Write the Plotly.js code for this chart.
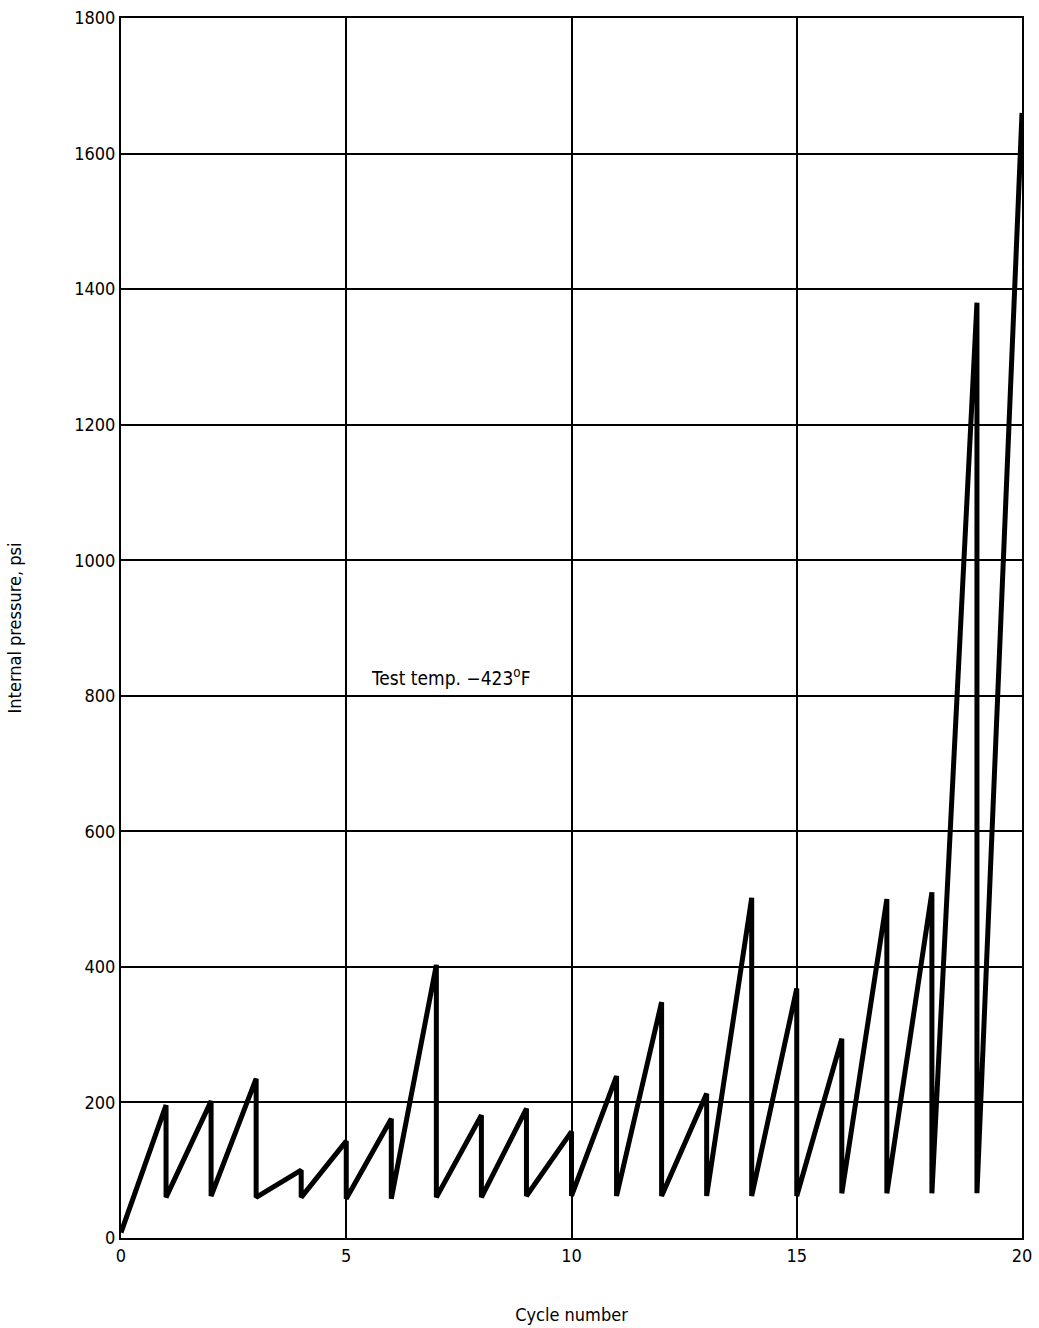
<!DOCTYPE html>
<html>
<head>
<meta charset="utf-8">
<script src="https://cdn.plot.ly/plotly-3.0.1.min.js"></script>
<style>html,body{margin:0;padding:0;background:#fff;}#chart{width:1039px;height:1328px;}</style>
</head>
<body>
<div id="chart"></div>
<script>
// Cycle number (x) and internal pressure, psi (y)
var cycleX = [0, 1, 1, 2, 2, 3, 3, 4, 4, 5, 5, 6, 6, 7, 7, 8, 8, 9, 9, 10, 10,
              11, 11, 12, 12, 13, 13, 14, 14, 15, 15, 16, 16, 17, 17, 18, 18, 19, 19, 20];
var pressureY = [8, 196, 60, 202, 62, 235, 60, 100, 60, 143, 58, 176, 58, 403, 60, 181, 60, 191, 62, 157, 62,
                 239, 62, 348, 62, 213, 62, 502, 62, 368, 62, 294, 66, 500, 66, 510, 66, 1380, 66, 1660];
var xTickVals = [0, 5, 10, 15, 20];
var xTickText = ["0", "5", "10", "15", "20"];
var yTickVals = [0, 200, 400, 600, 800, 1000, 1200, 1400, 1600, 1800];
var yTickText = ["0", "200", "400", "600", "800", "1000", "1200", "1400", "1600", "1800"];
var noteText = "Test temp. \u2212423<sup>o</sup>F";

var fontFam = "'DejaVu Sans Condensed', 'Liberation Sans Narrow', 'Roboto', sans-serif";

var trace = {
  x: cycleX, y: pressureY, type: 'scatter', mode: 'lines',
  line: {color: '#000', width: 5, shape: 'linear'},
  hoverinfo: 'skip', showlegend: false
};

var layout = {
  width: 1039, height: 1328,
  margin: {l: 121, r: 17, t: 18, b: 90},
  paper_bgcolor: '#fff', plot_bgcolor: '#fff',
  font: {family: fontFam, color: '#000', size: 18},
  xaxis: {
    range: [0, 20], tickvals: xTickVals, ticktext: xTickText,
    showgrid: true, gridcolor: '#000', gridwidth: 2,
    zeroline: false, showline: true, mirror: true, linecolor: '#000', linewidth: 2,
    ticks: '', ticklen: 0, tickfont: {family: fontFam, size: 18, color: '#000'},
    title: {text: 'Cycle number', font: {family: fontFam, size: 18, color: '#000'}, standoff: 44}
  },
  yaxis: {
    range: [0, 1800], tickvals: yTickVals, ticktext: yTickText,
    showgrid: true, gridcolor: '#000', gridwidth: 2,
    zeroline: false, showline: true, mirror: true, linecolor: '#000', linewidth: 2,
    ticks: '', ticklen: 0, tickfont: {family: fontFam, size: 18, color: '#000'},
    title: {text: 'Internal pressure, psi', font: {family: fontFam, size: 18, color: '#000'}, standoff: 48}
  },
  annotations: [{
    x: 5.5, y: 828, xref: 'x', yref: 'y', xanchor: 'left', yanchor: 'middle',
    text: noteText, showarrow: false,
    font: {family: fontFam, size: 19, color: '#000'}
  }]
};

Plotly.newPlot('chart', [trace], layout, {displayModeBar: false, staticPlot: true});
</script>
</body>
</html>
